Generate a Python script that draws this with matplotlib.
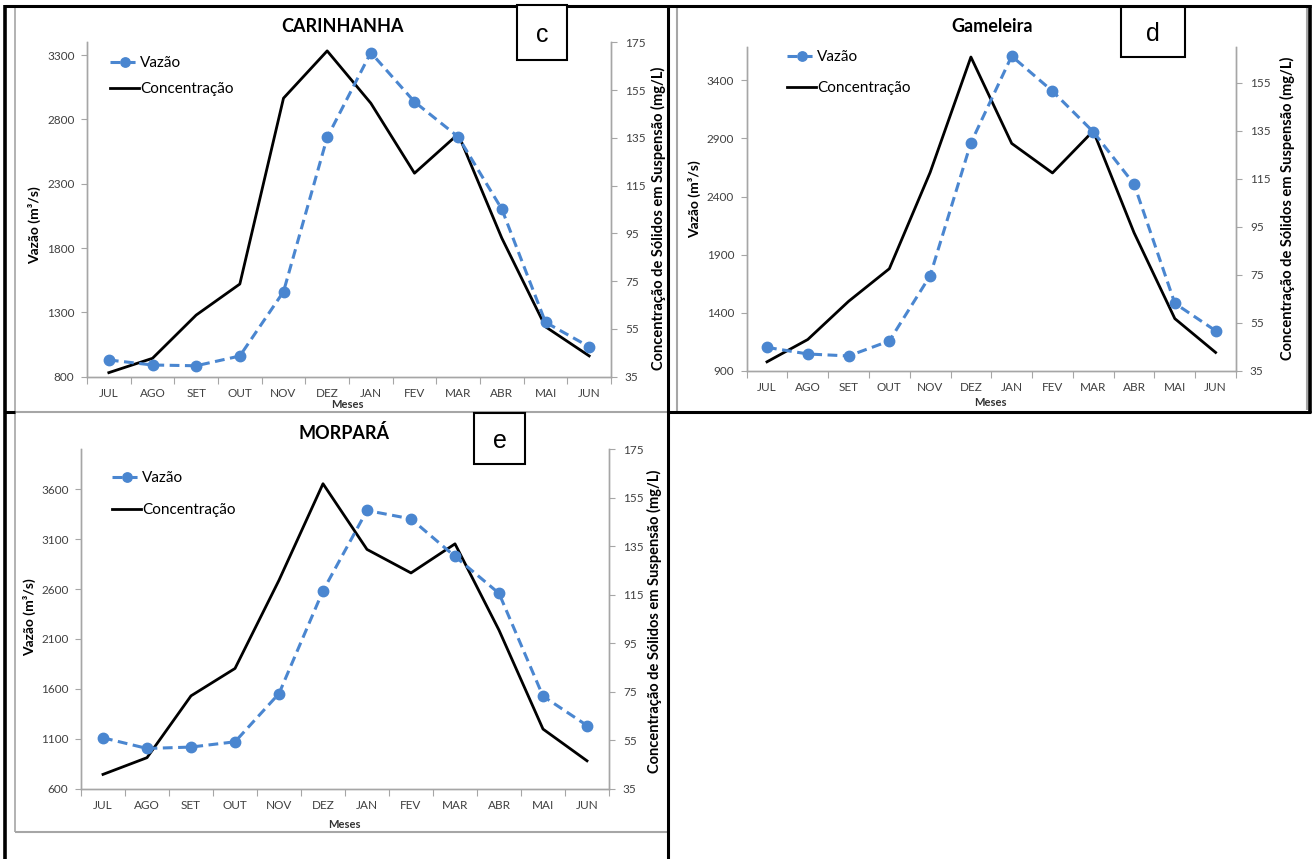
import matplotlib
matplotlib.use('Agg')
import matplotlib.pyplot as plt
from matplotlib.lines import Line2D
from matplotlib.patches import Rectangle

plt.rcParams['font.family'] = ['Lato', 'DejaVu Sans']

meses = ['JUL', 'AGO', 'SET', 'OUT', 'NOV', 'DEZ', 'JAN', 'FEV', 'MAR', 'ABR', 'MAI', 'JUN']

# Carinhanha
vazao_c = [930, 891, 885, 961, 1461, 2660, 3320, 2937, 2665, 2103, 1223, 1033]
conc_c = [36.7, 42.7, 60.8, 73.8, 151.6, 171.4, 149.5, 120.2, 136.6, 93, 55.9, 43.7]
# Gameleira
vazao_d = [1101, 1044, 1027, 1156, 1718, 2862, 3609, 3307, 2957, 2507, 1480, 1244]
conc_d = [38.7, 48.0, 63.9, 77.5, 117.6, 165.7, 129.7, 117.4, 134.9, 92.5, 56.7, 42.6]
# Morpará
vazao_e = [1110, 1003, 1017, 1070, 1553, 2583, 3387, 3303, 2927, 2557, 1527, 1233]
conc_e = [40.9, 47.8, 73.3, 84.6, 121, 160.8, 133.7, 124, 136, 100.4, 59.6, 46.5]

W, H = 1313, 859
fig = plt.figure(figsize=(W / 100, H / 100), dpi=100)

BLUE = '#4a86d0'
GRAY = '#a6a6a6'
TXT = '#404040'


def fx(x):
    return x / W


def fy(y):
    return 1 - y / H


def line(x0, y0, x1, y1, color='black', lw=2.2):
    fig.add_artist(Line2D([fx(x0), fx(x1)], [fy(y0), fy(y1)], color=color, lw=lw,
                          transform=fig.transFigure, solid_capstyle='butt'))


def painel(box, vazao, conc, yl, yticks, yl2, yticks2, titulo, letra, lbox,
           tit_xy, leg_xy, leg_sp, ylab_xy, ylab2_xy, xlab_xy):
    l, r, t, b = box
    ax = fig.add_axes([fx(l), fy(b), fx(r - l), (b - t) / H])
    ax2 = ax.twinx()
    x = range(len(meses))
    h2, = ax2.plot(x, conc, color='black', lw=2.0, label='Concentração', zorder=2)
    h1, = ax.plot(x, vazao, color=BLUE, lw=2.2, ls=(0, (3.2, 1.8)), marker='o',
                  ms=7.5, label='Vazão', zorder=3)
    ax.set_zorder(ax2.get_zorder() + 1)
    ax.patch.set_visible(False)
    ax.set_xlim(-0.5, len(meses) - 0.5)
    ax.set_ylim(*yl)
    ax2.set_ylim(*yl2)
    ax.set_yticks(yticks)
    ax2.set_yticks(yticks2)
    ax.set_xticks([i - 0.5 for i in range(len(meses) + 1)])
    ax.set_xticklabels([])
    ax.set_xticks(list(x), minor=True)
    ax.set_xticklabels(meses, minor=True)
    ax.tick_params(axis='x', which='major', length=5, color=GRAY, direction='out')
    ax.tick_params(axis='x', which='minor', length=0, pad=8, labelsize=8.5, labelcolor=TXT)
    ax.tick_params(axis='y', length=4, color=GRAY, pad=5, labelsize=8.5, labelcolor=TXT)
    ax2.tick_params(axis='y', length=4, color=GRAY, pad=6, labelsize=8.5, labelcolor=TXT)
    for a in (ax, ax2):
        for s in a.spines.values():
            s.set_color(GRAY)
            s.set_linewidth(1.0)
        a.spines['top'].set_visible(False)
    fig.legend([h1, h2], ['Vazão', 'Concentração'], loc='upper left',
               bbox_to_anchor=(fx(leg_xy[0]), fy(leg_xy[1])), frameon=False,
               fontsize=11, handlelength=1.9, handletextpad=0.05, labelspacing=leg_sp,
               borderpad=0, borderaxespad=0, markerscale=0.9)
    fig.text(fx(tit_xy[0]), fy(tit_xy[1]), titulo, ha='center', va='center',
             fontsize=13, fontweight='bold')
    fig.text(fx(ylab_xy[0]), fy(ylab_xy[1]), 'Vazão (m³/s)', rotation=90, ha='center',
             va='center', fontsize=10, fontweight='bold')
    fig.text(fx(ylab2_xy[0]), fy(ylab2_xy[1]), 'Concentração de Sólidos em Suspensão (mg/L)',
             rotation=90, ha='center', va='center', fontsize=10.5, fontweight='bold')
    fig.text(fx(xlab_xy[0]), fy(xlab_xy[1]), 'Meses', ha='center', va='center',
             fontsize=8, fontweight='bold', color='#333333')
    bx0, by0, bx1, by1 = lbox
    fig.add_artist(Rectangle((fx(bx0), fy(by1)), fx(bx1 - bx0), (by1 - by0) / H,
                             transform=fig.transFigure, fill=True, facecolor='white',
                             edgecolor='black', lw=1.5, zorder=5))
    fig.text(fx((bx0 + bx1) / 2), fy((by0 + by1) / 2 + 2), letra, ha='center', va='center',
             fontsize=18, family=['Liberation Sans', 'DejaVu Sans'], zorder=6)


# molduras
line(15, 412, 668, 412, GRAY, 1.5)
line(15, 5, 15, 832, GRAY, 1.2)
line(15, 832, 668, 832, GRAY, 1.5)
line(677, 8, 677, 412, GRAY, 1.5)
line(1307, 8, 1307, 410, GRAY, 1.5)
line(5, 6, 1311, 6)
line(5, 5, 5, 859, lw=2.6)
line(668, 5, 668, 859, lw=2.2)
line(1310, 5, 1310, 413, lw=2.6)
line(668, 412, 1311, 412)
line(5, 412, 15, 412)

painel((87, 611, 42.3, 376.7), vazao_c, conc_c, (800, 3400), range(800, 3301, 500),
       (35, 175), range(35, 176, 20), 'CARINHANHA', 'c', (517, 5, 567, 60),
       (342, 27), (110, 56), 0.81, (35, 225), (658, 218), (347, 405))
painel((746.6, 1236, 46.7, 370.7), vazao_d, conc_d, (900, 3690), range(900, 3401, 500),
       (35, 170), range(35, 156, 20), 'Gameleira', 'd', (1121, 7, 1185, 57),
       (992, 27), (787, 50), 1.14, (695, 199), (1287, 208), (990, 402))
painel((81, 609, 449.3, 788.7), vazao_e, conc_e, (600, 4000), range(600, 3601, 500),
       (35, 175), range(35, 176, 20), 'MORPARÁ', 'e', (474, 413, 525, 464),
       (344, 433), (112, 471), 1.2, (30, 617), (654, 621), (344, 824))

fig.savefig('out.png', dpi=100)
